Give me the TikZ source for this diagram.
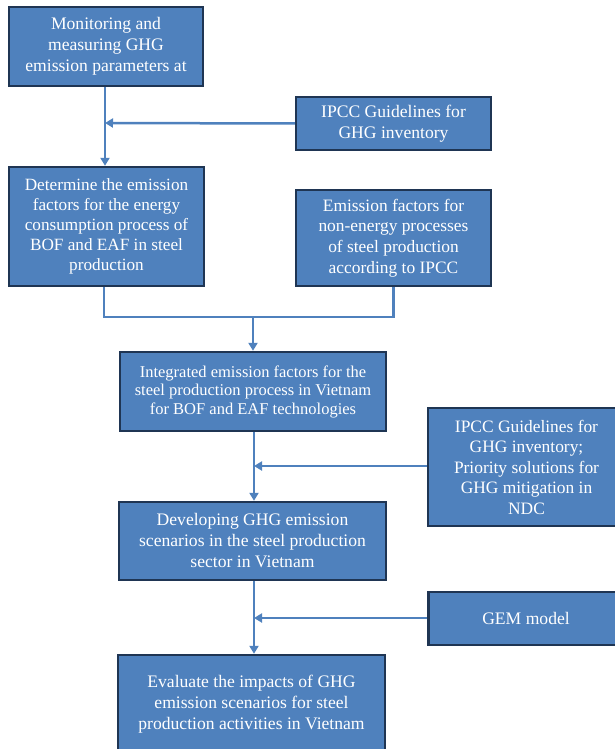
\documentclass[tikz,border=0pt]{standalone}
\usepackage{fontspec}
\setmainfont{Liberation Serif}
\usetikzlibrary{arrows.meta}
\definecolor{boxfill}{HTML}{4F81BD}
\definecolor{boxline}{HTML}{1F3553}
\definecolor{connc}{HTML}{4F81BD}
\begin{document}
\begin{tikzpicture}[x=1pt,y=-1pt,
  bx/.style={draw=boxline, line width=2.4pt, fill=boxfill, text=white, align=center,
    inner sep=0pt, font=\fontsize{17.6}{21}\selectfont},
  cn/.style={draw=connc, line width=2.5pt},
  arr/.style={cn, -{Triangle[length=8pt,width=9pt]}}]
\useasboundingbox (0,0) rectangle (615,749);
\clip (0,0) rectangle (615,749);

\node[bx, minimum width=194pt, minimum height=79pt] (b1) at (106,46.5)
  {Monitoring and\\measuring GHG\\emission parameters at};
\node[bx, minimum width=195pt, minimum height=119pt, font=\fontsize{17.2}{20}\selectfont] (b2) at (106.5,226.5)
  {Determine the emission\\factors for the energy\\consumption process of\\BOF and EAF in steel\\production};
\node[bx, minimum width=195pt, minimum height=53pt] (r1) at (393.5,123.5)
  {IPCC Guidelines for\\GHG inventory};
\node[bx, minimum width=195pt, minimum height=96pt, font=\fontsize{17.4}{20.7}\selectfont] (r2) at (393.5,238)
  {Emission factors for\\non-energy processes\\of steel production\\according to IPCC};
\node[bx, minimum width=266pt, minimum height=79pt, font=\fontsize{16.5}{18.5}\selectfont] (b3) at (253,391.5)
  {Integrated emission factors for the\\steel production process in Vietnam\\for BOF and EAF technologies};
\node[bx, minimum width=197pt, minimum height=118pt, font=\fontsize{17.4}{20.5}\selectfont] (r3) at (526.5,467)
  {IPCC Guidelines for\\GHG inventory;\\Priority solutions for\\GHG mitigation in\\NDC};
\node[bx, minimum width=267pt, minimum height=78pt] (b4) at (252.5,541)
  {Developing GHG emission\\scenarios in the steel production\\sector in Vietnam};
\node[bx, minimum width=195pt, minimum height=53pt] (r4) at (526,618.5)
  {GEM model};
\node[bx, minimum width=267pt, minimum height=98pt] (b5) at (251.5,704)
  {Evaluate the impacts of GHG\\emission scenarios for steel\\production activities in Vietnam};

% connectors
\coordinate (j1) at (105,123);
\draw[arr] (b1.south -| j1) -- (b2.north -| j1);
\draw[arr] (r1.west) -- (j1);

\coordinate (j2) at (253,317);
\coordinate (s2) at (104,0);
\draw[cn] (b2.south -| s2) |- (j2);
\draw[cn] (r2.south) |- (j2);
\draw[arr] (j2) -- (b3.north -| j2);

\coordinate (j3) at (254,466);
\draw[arr] (b3.south -| j3) -- (b4.north -| j3);
\draw[arr] (r3.west |- j3) -- (j3);

\coordinate (j4) at (254,618);
\draw[arr] (b4.south -| j4) -- (b5.north -| j4);
\draw[arr] (r4.west |- j4) -- (j4);
\end{tikzpicture}
\end{document}
